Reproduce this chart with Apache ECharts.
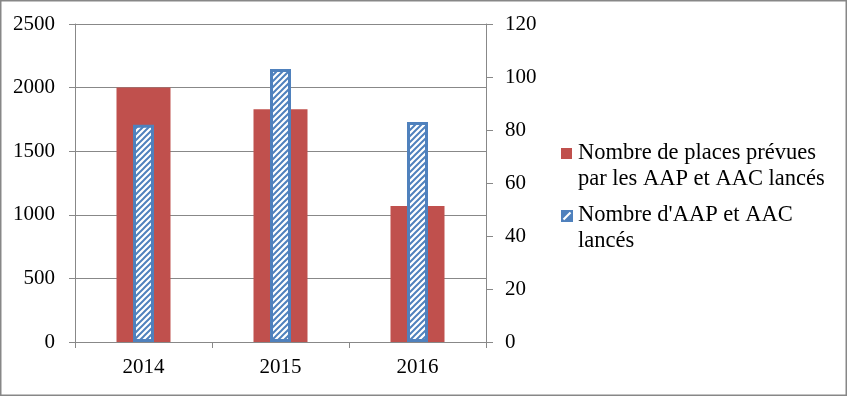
<!DOCTYPE html>
<html><head><meta charset="utf-8">
<script src="https://cdn.jsdelivr.net/npm/echarts@6/dist/echarts.min.js"></script>
<style>html,body{margin:0;padding:0;background:#fff}#c{width:847px;height:396px}</style>
</head><body><div id="c"></div>
<script>
const categories = ['2014', '2015', '2016'];
const places = [2000, 1830, 1070];
const appels = [82, 103, 83];
const leftTicks = [0, 500, 1000, 1500, 2000, 2500];
const rightTicks = [0, 20, 40, 60, 80, 100, 120];
const seriesNames = ['Nombre de places prévues\npar les AAP et AAC lancés', "Nombre d'AAP et AAC\nlancés"];

const RED = '#C0504D', BLUE = '#4F81BD', GRID = '#888888';
const FONT = 'Liberation Serif';

function hatch() {
  const s = 6, c = document.createElement('canvas');
  c.width = s; c.height = s;
  const g = c.getContext('2d');
  g.fillStyle = '#fff'; g.fillRect(0, 0, s, s);
  g.strokeStyle = BLUE; g.lineWidth = 2;
  g.beginPath();
  g.moveTo(-1, s + 1); g.lineTo(s + 1, -1);
  g.moveTo(-1, 1); g.lineTo(1, -1);
  g.moveTo(s - 1, s + 1); g.lineTo(s + 1, s - 1);
  g.stroke();
  return c;
}
const hatchPattern = {image: hatch(), repeat: 'repeat'};

const chart = echarts.init(document.getElementById('c'), null, {renderer: 'canvas'});
chart.setOption({
  animation: false,
  backgroundColor: '#fff',
  grid: {left: 75, right: 361, top: 24, bottom: 54},
  xAxis: [{
    type: 'category', data: categories,
    axisLine: {lineStyle: {color: GRID}}, axisTick: {show: true, length: 6, lineStyle: {color: GRID}},
    axisLabel: {fontFamily: FONT, fontSize: 21, color: '#000', margin: 15}
  }, {
    type: 'category', data: categories, show: false
  }],
  yAxis: [{
    type: 'value', min: 0, max: leftTicks[leftTicks.length - 1], interval: 500,
    axisLine: {show: true, lineStyle: {color: GRID}}, axisTick: {show: true, length: 6, lineStyle: {color: GRID}},
    splitLine: {lineStyle: {color: GRID}},
    axisLabel: {fontFamily: FONT, fontSize: 21, color: '#000', margin: 20, formatter: v => String(v)}
  }, {
    type: 'value', min: 0, max: rightTicks[rightTicks.length - 1], interval: 20, position: 'right',
    axisLine: {show: true, lineStyle: {color: GRID}}, axisTick: {show: true, length: 7, lineStyle: {color: GRID}},
    splitLine: {show: false},
    axisLabel: {fontFamily: FONT, fontSize: 21, color: '#000', margin: 19, formatter: v => String(v)}
  }],
  series: [{
    name: seriesNames[0], type: 'bar', xAxisIndex: 0, yAxisIndex: 0, data: places,
    barWidth: 54, itemStyle: {color: RED}
  }, {
    name: seriesNames[1], type: 'bar', xAxisIndex: 1, yAxisIndex: 1, data: appels,
    barWidth: 21, itemStyle: {color: hatchPattern, borderColor: BLUE, borderWidth: 3}
  }],
  graphic: [
    {type: 'rect', silent: true, z: 100,
     shape: {x: 0, y: 0, width: 847, height: 396},
     style: {fill: 'none', stroke: '#878787', lineWidth: 3}},
    {type: 'rect', silent: true, shape: {x: 561, y: 148, width: 11, height: 11}, style: {fill: RED}},
    {type: 'text', silent: true, x: 578, y: 140,
     style: {text: seriesNames[0], font: '22.5px "' + FONT + '"', fill: '#000', lineHeight: 26, verticalAlign: 'top'}},
    {type: 'rect', silent: true, shape: {x: 561, y: 210, width: 12, height: 12}, style: {fill: BLUE}},
    {type: 'line', silent: true, shape: {x1: 563.5, y1: 219.5, x2: 570.5, y2: 212.5},
     style: {stroke: '#fff', lineWidth: 2.2}},
    {type: 'text', silent: true, x: 578, y: 202.5,
     style: {text: seriesNames[1], font: '22.5px "' + FONT + '"', fill: '#000', lineHeight: 26, verticalAlign: 'top'}}
  ]
});
</script></body></html>
